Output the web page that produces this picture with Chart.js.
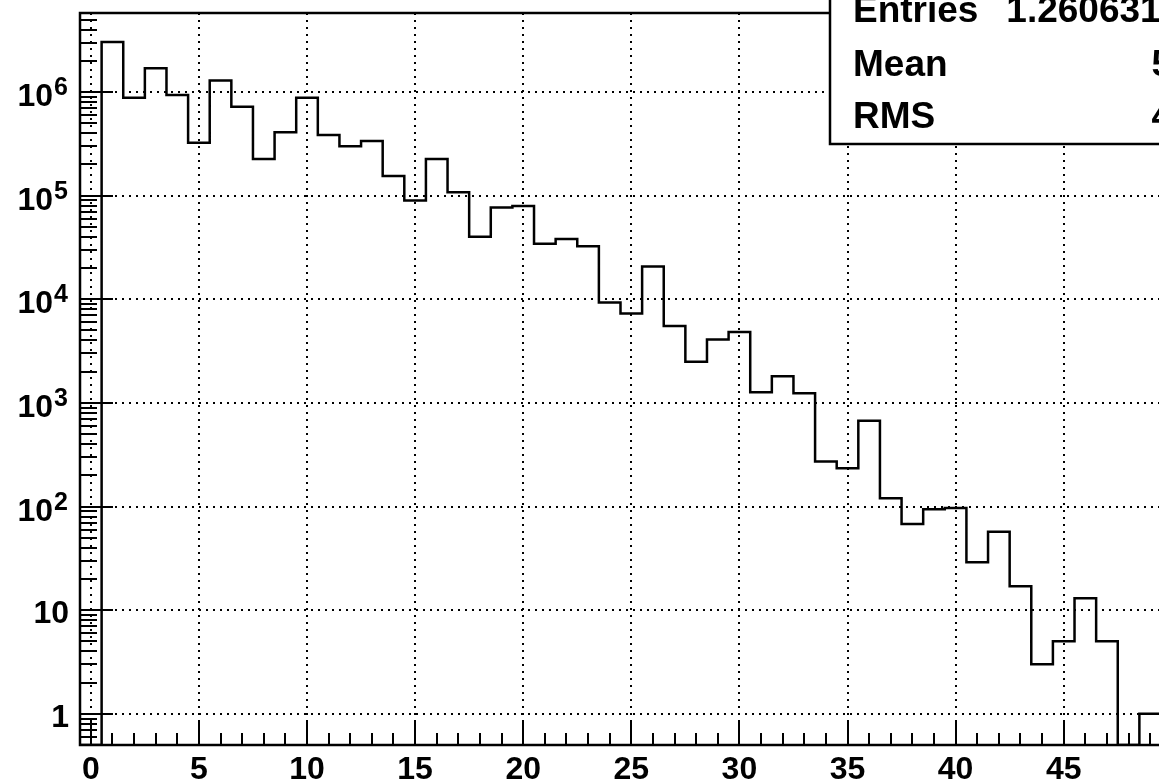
<!DOCTYPE html>
<html>
<head>
<meta charset="utf-8">
<title>Histogram</title>
<script src="https://cdn.jsdelivr.net/npm/chart.js@4.4.1/dist/chart.umd.min.js"></script>
<style>
  html, body { margin: 0; padding: 0; background: #fff; overflow: hidden; }
  #wrap { position: absolute; left: 0; top: 0; width: 1200px; height: 784px; }
</style>
</head>
<body>
<div id="wrap"><canvas id="histo" width="1200" height="784"></canvas></div>
<script>
    // bin centres (width 1) and bin contents
    const binCenters = [0, 1, 2, 3, 4, 5, 6, 7, 8, 9,
        10, 11, 12, 13, 14, 15, 16, 17, 18, 19,
        20, 21, 22, 23, 24, 25, 26, 27, 28, 29,
        30, 31, 32, 33, 34, 35, 36, 37, 38, 39,
        40, 41, 42, 43, 44, 45, 46, 47, 48, 49];
    const counts = [0, 3040000, 880000, 1690000, 935000, 324000, 1290000, 720000, 226000, 408000,
        880000, 385000, 300000, 337000, 155000, 89600, 226000, 108000, 40000, 76600,
        79500, 34400, 38200, 32400, 9300, 7300, 20700, 5530, 2500, 4100,
        4840, 1270, 1810, 1240, 272, 234, 674, 120, 68, 94,
        97, 29, 57, 17, 3, 5, 13, 5, 0, 1];

    const xTickValues = [0, 5, 10, 15, 20, 25, 30, 35, 40, 45];
    const xTickLabels = ['0', '5', '10', '15', '20', '25', '30', '35', '40', '45'];
    const yTickValues = [1, 10, 100, 1000, 10000, 100000, 1000000];
    const yTickBase = ['1', '10', '10', '10', '10', '10', '10'];
    const yTickExp = ['', '', '2', '3', '4', '5', '6'];

    const statsLabels = ['Entries', 'Mean', 'RMS'];
    const statsValues = ['1.260631e+07', '5.662', '4.393'];

    const yMin = 0.5;
    const yMax = 5.78e6;
    const fontFamily = '"Liberation Sans", Arial, Helvetica, sans-serif';

    // histogram outline: one point per lower bin edge, plus the last upper edge
    const outline = binCenters.map((c, i) => ({ x: c - 0.5, y: counts[i] > 0 ? counts[i] : yMin }));
    outline.push({ x: binCenters[binCenters.length - 1] + 0.5, y: outline[outline.length - 1].y });

    const rootAxes = {
        id: 'rootAxes',
        beforeDatasetsDraw(chart) {
            const { ctx, chartArea: a, scales: { x, y } } = chart;
            ctx.save();
            ctx.strokeStyle = '#000';
            ctx.lineWidth = 2;
            ctx.setLineDash([2, 5]);
            xTickValues.forEach(v => {
                const px = Math.round(x.getPixelForValue(v));
                ctx.beginPath();
                ctx.moveTo(px, a.top);
                ctx.lineTo(px, a.bottom);
                ctx.stroke();
            });
            yTickValues.forEach(v => {
                const py = Math.round(y.getPixelForValue(v));
                ctx.beginPath();
                ctx.moveTo(a.left, py);
                ctx.lineTo(a.right, py);
                ctx.stroke();
            });
            ctx.restore();
        },
        afterDatasetsDraw(chart) {
            const { ctx, chartArea: a, scales: { x, y } } = chart;
            ctx.save();
            ctx.strokeStyle = '#000';
            ctx.fillStyle = '#000';
            ctx.lineWidth = 2;

            // x ticks, pointing up from the bottom edge
            for (let i = 0; i <= 49; i++) {
                const px = Math.round(x.getPixelForValue(i));
                const len = i % 5 === 0 ? 23 : 12;
                ctx.beginPath();
                ctx.moveTo(px, a.bottom);
                ctx.lineTo(px, a.bottom - len);
                ctx.stroke();
            }

            // y ticks, pointing right from the left edge
            for (let k = -1; k <= 6; k++) {
                for (let m = 1; m <= 9; m++) {
                    const v = m * Math.pow(10, k);
                    if (v < yMin || v > yMax) continue;
                    const py = Math.round(y.getPixelForValue(v));
                    const len = m === 1 ? 33 : 17;
                    ctx.beginPath();
                    ctx.moveTo(a.left, py);
                    ctx.lineTo(a.left + len, py);
                    ctx.stroke();
                }
            }

            ctx.lineWidth = 2.5;
            ctx.strokeRect(a.left, a.top, a.right - a.left, a.bottom - a.top);

            // x labels
            ctx.font = `bold 32px ${fontFamily}`;
            ctx.textAlign = 'center';
            ctx.textBaseline = 'alphabetic';
            xTickValues.forEach((v, i) => {
                ctx.fillText(xTickLabels[i], x.getPixelForValue(v), 779);
            });

            // y labels with superscript exponents
            ctx.textAlign = 'left';
            yTickValues.forEach((v, i) => {
                const py = y.getPixelForValue(v);
                ctx.font = `bold 32px ${fontFamily}`;
                const wBase = ctx.measureText(yTickBase[i]).width;
                if (yTickExp[i] === '') {
                    ctx.fillText(yTickBase[i], 69 - wBase, py + 13);
                } else {
                    ctx.font = `bold 25px ${fontFamily}`;
                    const wExp = ctx.measureText(yTickExp[i]).width;
                    const x0 = 68 - wBase - wExp - 1;
                    ctx.font = `bold 32px ${fontFamily}`;
                    ctx.fillText(yTickBase[i], x0, py + 14);
                    ctx.font = `bold 25px ${fontFamily}`;
                    ctx.fillText(yTickExp[i], x0 + wBase + 1, py + 3);
                }
            });
            ctx.restore();
        },
        afterDraw(chart) {
            // statistics box, partly outside the visible picture
            const { ctx } = chart;
            ctx.save();
            ctx.fillStyle = '#fff';
            ctx.fillRect(830, -20, 500, 164);
            ctx.strokeStyle = '#000';
            ctx.lineWidth = 2.5;
            ctx.strokeRect(830, -20, 500, 164);
            ctx.fillStyle = '#000';
            ctx.font = `bold 37px ${fontFamily}`;
            ctx.textBaseline = 'alphabetic';
            const baselines = [22, 76, 128];
            statsLabels.forEach((label, i) => {
                ctx.textAlign = 'left';
                ctx.fillText(label, 853, baselines[i]);
                ctx.textAlign = 'right';
                ctx.fillText(statsValues[i], 1244, baselines[i]);
            });
            ctx.restore();
        }
    };

    const ctx = document.getElementById('histo').getContext('2d');
    const histoChart = new Chart(ctx, {
        type: 'line',
        data: {
            datasets: [{
                label: 'counts',
                data: outline,
                stepped: true,
                borderColor: '#000',
                borderWidth: 2.5,
                pointRadius: 0,
                fill: false,
                tension: 0
            }]
        },
        options: {
            responsive: false,
            animation: false,
            devicePixelRatio: 1,
            layout: { padding: { left: 0, top: 13, right: 39, bottom: 0 } },
            plugins: {
                legend: { display: false },
                tooltip: { enabled: false }
            },
            scales: {
                x: {
                    type: 'linear',
                    min: -0.5,
                    max: 49.5,
                    ticks: { display: false },
                    grid: { display: false },
                    border: { display: false },
                    afterFit: s => { s.height = 39; }
                },
                y: {
                    type: 'logarithmic',
                    min: yMin,
                    max: yMax,
                    ticks: { display: false },
                    grid: { display: false },
                    border: { display: false },
                    afterFit: s => { s.width = 80; }
                }
            }
        },
        plugins: [rootAxes]
    });
</script>
</body>
</html>
